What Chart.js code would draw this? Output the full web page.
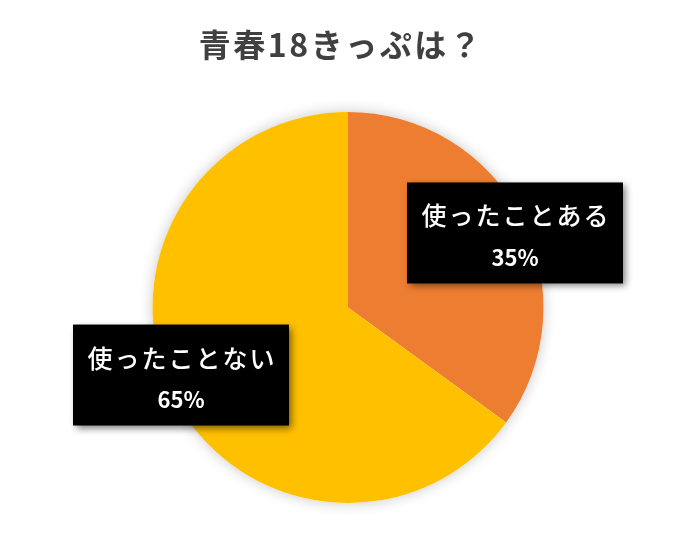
<!DOCTYPE html>
<html lang="ja">
<head>
	<meta charset="UTF-8">
	<title>青春18きっぷは？</title>
	<script src="https://cdn.jsdelivr.net/npm/chart.js"></script>
	<style>
		body { margin: 0; background: #ffffff; }
		#wrap { width: 684px; height: 543px; }
	</style>
</head>
<body>
	<div id="wrap">
		<canvas id="pieChart" width="684" height="543"></canvas>
	</div>

	<script type="text/javascript">
		var titleText = '青春18きっぷは？';
		var answers = ['使ったことある', '使ったことない'];
		var percents = [35, 65];
		var sliceColors = ['#ED7D31', '#FFC000'];

		var FONT = '"Noto Sans CJK JP", "Noto Sans", sans-serif';

		// title drawn at the top of the canvas
		var titlePlugin = {
			id: 'bigTitle',
			afterDraw: function (chart) {
				var ctx = chart.ctx;
				ctx.save();
				ctx.font = 'bold 32px ' + FONT;
				ctx.fillStyle = '#404040';
				ctx.textAlign = 'center';
				ctx.textBaseline = 'middle';
				ctx.letterSpacing = '2.5px';
				ctx.fillText(titleText, 341, 45);
				ctx.restore();
			}
		};

		// soft halo behind the pie
		var shadowPlugin = {
			id: 'pieShadow',
			beforeDatasetsDraw: function (chart) {
				var arc = chart.getDatasetMeta(0).data[0];
				if (!arc) return;
				var ctx = chart.ctx;
				ctx.save();
				ctx.shadowColor = 'rgba(0,0,0,0.22)';
				ctx.shadowBlur = 14;
				ctx.fillStyle = '#ffffff';
				ctx.beginPath();
				ctx.arc(arc.x, arc.y, arc.outerRadius, 0, Math.PI * 2);
				ctx.fill();
				ctx.restore();
			}
		};

		// black callout boxes with category + percent
		var boxLabels = {
			id: 'boxLabels',
			afterDatasetsDraw: function (chart, args, opts) {
				var ctx = chart.ctx;
				var meta = chart.getDatasetMeta(0);
				meta.data.forEach(function (arc, i) {
					var mid = (arc.startAngle + arc.endAngle) / 2;
					var r = arc.outerRadius * opts.factor;
					var cx = arc.x + Math.cos(mid) * r + opts.offsets[i][0];
					var cy = arc.y + Math.sin(mid) * r + opts.offsets[i][1];
					var w = opts.boxW, h = opts.boxH;

					ctx.save();
					ctx.shadowColor = 'rgba(0,0,0,0.5)';
					ctx.shadowBlur = 7;
					ctx.shadowOffsetX = 3;
					ctx.shadowOffsetY = 3;
					ctx.fillStyle = '#000000';
					ctx.fillRect(cx - w / 2, cy - h / 2, w, h);
					ctx.restore();

					ctx.save();
					ctx.fillStyle = '#ffffff';
					ctx.textAlign = 'center';
					ctx.textBaseline = 'middle';
					ctx.font = '500 25px ' + FONT;
					ctx.letterSpacing = '2px';
					ctx.fillText(answers[i], cx + 1, cy - 17);
					ctx.letterSpacing = '0px';
					ctx.font = 'bold 22px ' + FONT;
					ctx.fillText(percents[i] + '%', cx, cy + 25);
					ctx.restore();
				});
			}
		};

		var ctx = document.getElementById('pieChart').getContext('2d');
		var myChart = new Chart(ctx, {
			type: 'pie',
			data: {
				labels: answers,
				datasets: [{
					data: percents,
					backgroundColor: sliceColors,
					borderWidth: 0
				}]
			},
			options: {
				responsive: false,
				animation: false,
				layout: {
					padding: { top: 112, bottom: 40, left: 12, right: 0 }
				},
				plugins: {
					legend: { display: false },
					title: { display: false },
					tooltip: { enabled: false },
					boxLabels: {
						factor: 0.93,
						boxW: 216,
						boxH: 101,
						offsets: [[5, 8], [-5, -15]]
					}
				}
			},
			plugins: [shadowPlugin, boxLabels, titlePlugin]
		});
	</script>
</body>
</html>
